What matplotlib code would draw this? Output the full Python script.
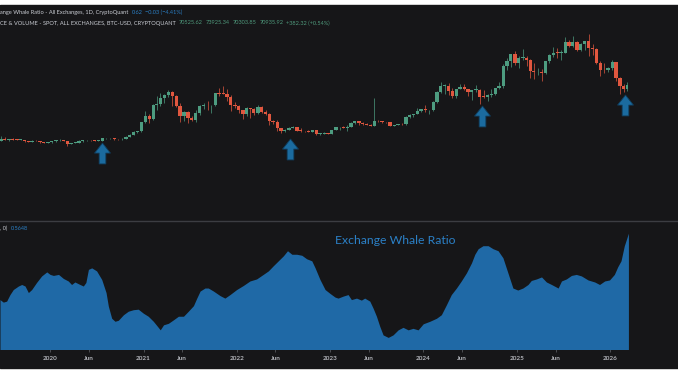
import matplotlib

matplotlib.use("Agg")
import matplotlib.pyplot as plt
import matplotlib.dates as mdates
from matplotlib.path import Path
from matplotlib.patches import Rectangle
from matplotlib.lines import Line2D
import pandas as pd

################################################################################

OUT_FILE = "out.png"
W_PX, H_PX = 678, 381
DPI = 100

BG = "#161618"
UP = "#4d9c80"
DOWN = "#e0573f"
AREA = "#1f69a6"
ARROW = "#1b6b9f"
TEXT = "#c9ccd3"
BLUE_TXT = "#2b80c6"
GREEN_TXT = "#4f9a7c"
TICK_TXT = "#b4b6bc"
FONT = "Lato"

################################################################################
# BTC price, half-month checkpoints (thousand USD)

price_dates = list(pd.date_range("2019-06-15", "2026-03-01", freq="SMS")) + [
    pd.Timestamp("2026-03-13")
]
price_k = [
    8.7, 10.6, 10.2, 10.4, 10.3, 9.8, 10.3, 8.3, 8.1, 9.2, 8.5, 7.4, 7.1,
    7.2, 8.8, 9.4, 9.9, 8.5, 5.4, 6.6, 6.6, 8.8, 9.4, 10.2, 9.4,
    9.2, 9.2, 11.8, 11.9, 11.9, 10.8, 10.6, 11.5, 13.7, 15.9, 19.2, 19.4,
    29.4, 36.8, 33.5, 48.6, 49.6, 55.9, 59.0, 63.1, 57.8, 46.8, 36.7, 40.2,
    33.6, 31.8, 39.9, 47.0, 48.8, 48.1, 48.1, 61.5, 61.0, 60.4, 57.2, 48.9,
    47.3, 43.1, 38.7, 44.6, 44.4, 39.3, 46.3, 40.5, 38.5, 31.3, 29.8, 22.6,
    19.3, 20.8, 23.3, 24.1, 20.1, 19.7, 19.3, 19.1, 20.5, 16.9, 17.0, 17.4,
    16.6, 20.9, 23.7, 24.3, 23.6, 24.4, 28.5, 30.3, 28.1, 27.2, 26.8, 25.6,
    30.6, 30.3, 29.7, 29.2, 25.8, 26.6, 27.9, 27.0, 35.4, 37.9, 38.7, 41.9,
    44.2, 42.5, 43.1, 51.9, 62.4, 69.5, 69.7, 63.4, 58.3, 66.2, 67.7, 66.0,
    62.9, 64.8, 65.3, 57.5, 57.3, 59.1, 60.8, 67.0, 69.5, 91.0, 97.2, 104.5,
    94.4, 100.5, 100.6, 97.5, 86.0, 84.3, 85.2, 83.6, 96.5, 103.7, 105.6, 105.5,
    105.7, 117.7, 113.3, 117.3, 109.2, 115.3, 118.6, 110.8, 110.1, 94.5, 86.5, 86.4,
    88.7, 95.5, 78.6, 68.8, 66.0, 70.9,
]
high_k = [
    13.8, 13.1, 11.0, 12.3, 10.9, 10.9, 10.4, 8.8, 10.4, 9.5, 8.8, 7.7, 7.6,
    8.9, 9.6, 10.5, 10.3, 9.2, 6.9, 7.5, 9.4, 10.1, 10.4, 10.4, 9.8,
    9.5, 11.9, 12.1, 12.5, 12.1, 11.1, 11.7, 14.0, 16.3, 19.5, 19.9, 29.4,
    41.9, 38.0, 49.7, 58.4, 61.8, 60.6, 64.9, 63.6, 59.6, 50.6, 41.3, 41.3,
    35.9, 42.6, 48.1, 50.5, 52.9, 48.5, 62.0, 67.0, 69.0, 66.3, 59.1, 52.1,
    47.9, 43.4, 45.8, 44.9, 45.4, 48.2, 47.0, 42.9, 40.0, 31.4, 32.0, 23.2,
    22.5, 24.3, 25.2, 24.4, 22.7, 20.3, 20.5, 21.0, 21.4, 17.3, 18.3, 17.4,
    21.3, 23.9, 24.3, 25.2, 26.5, 29.2, 31.0, 30.6, 29.8, 28.4, 27.4, 56.0,
    31.8, 30.4, 30.0, 29.3, 26.8, 28.0, 28.6, 35.9, 38.0, 38.9, 44.7, 44.3,
    48.9, 43.3, 52.8, 64.0, 73.8, 71.6, 72.7, 67.2, 66.3, 71.9, 71.9, 66.4,
    65.0, 70.0, 65.6, 65.0, 60.6, 66.5, 67.0, 73.6, 93.4, 99.6, 104.6, 108.3,
    102.7, 109.6, 102.5, 98.7, 95.0, 88.8, 88.5, 96.8, 104.9, 111.9, 110.6, 108.9,
    123.2, 120.2, 124.5, 118.6, 116.8, 118.8, 126.2, 116.0, 111.2, 96.6, 94.6, 90.5,
    97.9, 96.0, 79.4, 71.0, 73.9,
]
low_k = [
    8.6, 9.7, 9.1, 10.0, 9.4, 9.8, 7.7, 8.0, 7.3, 8.5, 6.5, 7.0, 6.4,
    6.9, 8.2, 9.2, 8.4, 3.8, 5.0, 6.2, 6.6, 8.1, 8.6, 9.2, 8.9,
    9.0, 9.1, 11.0, 11.1, 9.9, 10.2, 10.4, 11.2, 13.2, 15.8, 17.6, 19.0,
    28.6, 28.8, 32.3, 43.0, 47.0, 50.4, 56.8, 47.0, 46.4, 30.0, 31.0, 28.8,
    31.1, 29.3, 37.5, 43.9, 42.9, 39.6, 47.0, 58.0, 60.0, 53.3, 42.0, 45.5,
    39.6, 33.0, 36.3, 34.3, 37.2, 38.1, 39.2, 37.6, 26.7, 28.0, 20.1, 17.6,
    18.9, 20.8, 22.6, 19.6, 18.5, 18.2, 18.2, 18.9, 15.6, 15.5, 16.8, 16.3,
    16.5, 20.4, 21.4, 22.7, 19.6, 24.2, 27.8, 26.9, 26.0, 26.0, 24.8, 25.0,
    29.7, 28.9, 28.7, 25.2, 24.9, 26.0, 26.6, 26.9, 34.1, 35.5, 38.6, 40.5,
    40.8, 38.5, 41.9, 50.6, 61.8, 60.8, 59.7, 56.6, 56.5, 65.8, 65.0, 58.4,
    53.5, 62.5, 49.0, 56.1, 52.6, 57.5, 59.8, 65.5, 66.8, 87.1, 90.5, 92.2,
    89.3, 97.9, 91.2, 78.2, 76.6, 81.2, 74.4, 83.0, 94.1, 101.5, 100.4, 98.2,
    105.1, 112.7, 112.0, 107.3, 107.3, 108.6, 102.0, 103.5, 94.0, 80.5, 83.8, 84.5,
    87.0, 75.0, 60.0, 62.6, 63.9,
]

ratio_dates = [
    "2019-06-19", "2019-07-02", "2019-07-15", "2019-07-28", "2019-08-10",
    "2019-08-30", "2019-09-12", "2019-09-25", "2019-10-08", "2019-10-21",
    "2019-11-09", "2019-11-29", "2019-12-19", "2020-01-01", "2020-01-14",
    "2020-02-03", "2020-02-22", "2020-03-12", "2020-03-25", "2020-04-07",
    "2020-04-27", "2020-05-10", "2020-05-20", "2020-05-30", "2020-06-12",
    "2020-07-01", "2020-07-21", "2020-08-07", "2020-08-16", "2020-08-29",
    "2020-09-11", "2020-09-24", "2020-10-14", "2020-11-02", "2020-11-22",
    "2020-12-11", "2020-12-31", "2021-01-19", "2021-02-08", "2021-02-24",
    "2021-03-07", "2021-03-20", "2021-04-08", "2021-04-28", "2021-05-17",
    "2021-06-06", "2021-06-25", "2021-07-15", "2021-07-28", "2021-08-10",
    "2021-08-29", "2021-09-11", "2021-10-01", "2021-10-27", "2021-11-15",
    "2021-12-05", "2021-12-31", "2022-01-26", "2022-02-21", "2022-03-19",
    "2022-04-14", "2022-05-04", "2022-05-23", "2022-06-12", "2022-07-02",
    "2022-07-18", "2022-08-04", "2022-08-23", "2022-09-12", "2022-10-01",
    "2022-10-21", "2022-11-03", "2022-11-22", "2022-12-12", "2023-01-01",
    "2023-01-20", "2023-02-01", "2023-02-21", "2023-03-12", "2023-03-25",
    "2023-04-14", "2023-05-03", "2023-05-16", "2023-06-05", "2023-06-18",
    "2023-07-01", "2023-07-14", "2023-07-27", "2023-08-16", "2023-09-04",
    "2023-09-24", "2023-10-13", "2023-11-02", "2023-11-21", "2023-12-11",
    "2023-12-31", "2024-01-26", "2024-02-21", "2024-03-11", "2024-03-31",
    "2024-04-19", "2024-05-09", "2024-05-28", "2024-06-17", "2024-07-07",
    "2024-07-20", "2024-08-02", "2024-08-21", "2024-09-10", "2024-09-29",
    "2024-10-19", "2024-11-07", "2024-11-20", "2024-12-03", "2024-12-16",
    "2025-01-04", "2025-01-24", "2025-02-13", "2025-02-26", "2025-03-18",
    "2025-04-07", "2025-04-26", "2025-05-16", "2025-06-11", "2025-06-24",
    "2025-07-13", "2025-08-02", "2025-08-21", "2025-09-10", "2025-10-06",
    "2025-11-01", "2025-11-20", "2025-12-10", "2025-12-29", "2026-01-17",
    "2026-01-30", "2026-02-12", "2026-02-25", "2026-03-13",
]
ratio_values = [
    0.433, 0.428, 0.430, 0.443, 0.453, 0.460, 0.463, 0.460, 0.447, 0.453,
    0.467, 0.480, 0.488, 0.483, 0.481, 0.483, 0.475, 0.470, 0.463, 0.468,
    0.463, 0.460, 0.467, 0.493, 0.496, 0.490, 0.473, 0.447, 0.420, 0.396,
    0.390, 0.392, 0.403, 0.410, 0.413, 0.414, 0.406, 0.400, 0.390, 0.380,
    0.373, 0.383, 0.386, 0.393, 0.400, 0.400, 0.410, 0.421, 0.436, 0.450,
    0.456, 0.456, 0.450, 0.441, 0.436, 0.443, 0.453, 0.461, 0.470, 0.474,
    0.483, 0.490, 0.500, 0.510, 0.520, 0.530, 0.523, 0.523, 0.521, 0.514,
    0.510, 0.496, 0.473, 0.453, 0.445, 0.438, 0.436, 0.440, 0.443, 0.433,
    0.436, 0.432, 0.436, 0.430, 0.416, 0.400, 0.380, 0.363, 0.358, 0.363,
    0.373, 0.378, 0.373, 0.376, 0.373, 0.385, 0.390, 0.396, 0.403, 0.423,
    0.443, 0.456, 0.470, 0.486, 0.506, 0.523, 0.534, 0.540, 0.540, 0.534,
    0.530, 0.516, 0.496, 0.476, 0.456, 0.452, 0.456, 0.463, 0.471, 0.474,
    0.478, 0.468, 0.463, 0.456, 0.470, 0.474, 0.481, 0.483, 0.480, 0.472,
    0.468, 0.463, 0.470, 0.472, 0.483, 0.498, 0.510, 0.540, 0.5648,
]

# blue marker arrows drawn on the price pane (date, level in thousand USD)
arrow_dates = ["2020-07-22", "2022-07-28", "2024-08-17", "2026-02-27"]
arrow_level_k = [-4.4, 0.0, 35.8, 48.4]

tick_dates = [
    "2020-01-01", "2020-06-01", "2021-01-01", "2021-06-01", "2022-01-01",
    "2022-06-01", "2023-01-01", "2023-06-01", "2024-01-01", "2024-06-01",
    "2025-01-01", "2025-06-01", "2026-01-01",
]
tick_labels = [
    "2020", "Jun", "2021", "Jun", "2022", "Jun", "2023", "Jun",
    "2024", "Jun", "2025", "Jun", "2026",
]

# legend rows: (text, colour) pieces, written left to right
legend_row1 = [
    ("ange Whale Ratio - All Exchanges, 1D, CryptoQuant", TEXT),
    ("0.62", BLUE_TXT),
    ("\u22120.03 (\u22124.41%)", BLUE_TXT),
]
legend_row2 = [
    ("CE & VOLUME - SPOT, ALL EXCHANGES, BTC-USD, CRYPTOQUANT", TEXT),
    ("70525.62", GREEN_TXT),
    ("73925.34", GREEN_TXT),
    ("70303.85", GREEN_TXT),
    ("70935.92", GREEN_TXT),
    ("+382.32 (+0.54%)", GREEN_TXT),
]
legend_row3 = [
    (", 0)", TEXT),
    ("0.5648", BLUE_TXT),
]

################################################################################


def fx(px):
    return px / W_PX


def fy(py):
    return 1 - py / H_PX


def up_arrow_marker():
    verts = [
        (0.0, 0.5), (0.38, 0.02), (0.16, 0.02), (0.16, -0.5),
        (-0.16, -0.5), (-0.16, 0.02), (-0.38, 0.02), (0.0, 0.5),
    ]
    codes = [Path.MOVETO] + [Path.LINETO] * 6 + [Path.CLOSEPOLY]
    return Path(verts, codes)


def draw_candles(ax):
    assert len(price_k) == len(price_dates)
    assert len(high_k) == len(low_k) == len(price_k) - 1
    nums = mdates.date2num(price_dates)
    for i in range(len(high_k)):
        o, c = price_k[i] * 1000, price_k[i + 1] * 1000
        h, l = high_k[i] * 1000, low_k[i] * 1000
        x = (nums[i] + nums[i + 1]) / 2
        span = nums[i + 1] - nums[i]
        color = UP if c >= o else DOWN
        ax.vlines(x, l, h, color=color, lw=0.5, zorder=2)
        ax.bar(
            x, max(abs(c - o), 700), bottom=min(o, c), width=span * 0.85,
            color=color, lw=0, zorder=3,
        )


def write_row(fig, row, x0, y, gap=3.0, size=4.1):
    renderer = fig.canvas.get_renderer()
    x = x0
    for s, color in row:
        t = fig.text(fx(x), fy(y), s, color=color, ha="left", va="center",
                     fontsize=size, family=FONT)
        bb = t.get_window_extent(renderer=renderer)
        x = bb.x1 + gap


def make_fig():
    fig = plt.figure(figsize=(W_PX / DPI, H_PX / DPI), dpi=DPI, facecolor="white")
    fig.patches.append(
        Rectangle(
            (0, fy(368)), 1, (368 - 5) / H_PX, transform=fig.transFigure,
            color=BG, zorder=-5,
        )
    )
    ax_top = fig.add_axes([0, fy(220), 1, 215 / H_PX])
    ax_bot = fig.add_axes([0, fy(349), 1, 129 / H_PX], sharex=ax_top)
    for ax in (ax_top, ax_bot):
        ax.set_facecolor(BG)
        for s in ax.spines.values():
            s.set_visible(False)
    ##
    draw_candles(ax_top)
    ax_top.plot(
        pd.to_datetime(arrow_dates), [v * 1000 for v in arrow_level_k],
        ls="none", marker=up_arrow_marker(), markersize=15,
        markerfacecolor=ARROW, markeredgecolor="#0f3f60", markeredgewidth=0.6,
        zorder=4,
    )
    ax_top.set_ylim(-78100, 158400)
    ax_top.tick_params(left=False, labelleft=False, bottom=False, labelbottom=False)
    ##
    rd = pd.to_datetime(ratio_dates)
    ax_bot.fill_between(rd, ratio_values, 0, color=AREA, lw=0, zorder=2)
    ax_bot.set_ylim(0.335, 0.591)
    ax_bot.set_xlim(pd.Timestamp("2019-06-19"), pd.Timestamp("2026-09-23"))
    ax_bot.set_xticks(pd.to_datetime(tick_dates))
    ax_bot.set_xticklabels(tick_labels)
    ax_bot.tick_params(
        axis="x", length=2, width=0.6, color="#55575c", pad=3,
        labelsize=4.6, labelcolor=TICK_TXT,
    )
    for lab in ax_bot.get_xticklabels():
        lab.set_fontfamily(FONT)
        lab.set_fontweight("bold")
    ax_bot.tick_params(axis="y", left=False, labelleft=False)
    ax_bot.text(
        0.4941, 0.84, "Exchange Whale Ratio", transform=ax_bot.transAxes,
        color=BLUE_TXT, fontsize=8.8, family=FONT, va="center", ha="left",
    )
    ##
    fig.add_artist(
        Line2D([0, 1], [fy(220.5)] * 2, color="#3c3d42", lw=1.0, transform=fig.transFigure)
    )
    ##
    write_row(fig, legend_row1, 0.0, 12.7)
    write_row(fig, legend_row2, 0.0, 23.0)
    write_row(fig, legend_row3, 0.5, 228.0)
    return fig


################################################################################


def main():
    fig = make_fig()
    fig.savefig(OUT_FILE, dpi=DPI, facecolor=fig.get_facecolor())


main()
